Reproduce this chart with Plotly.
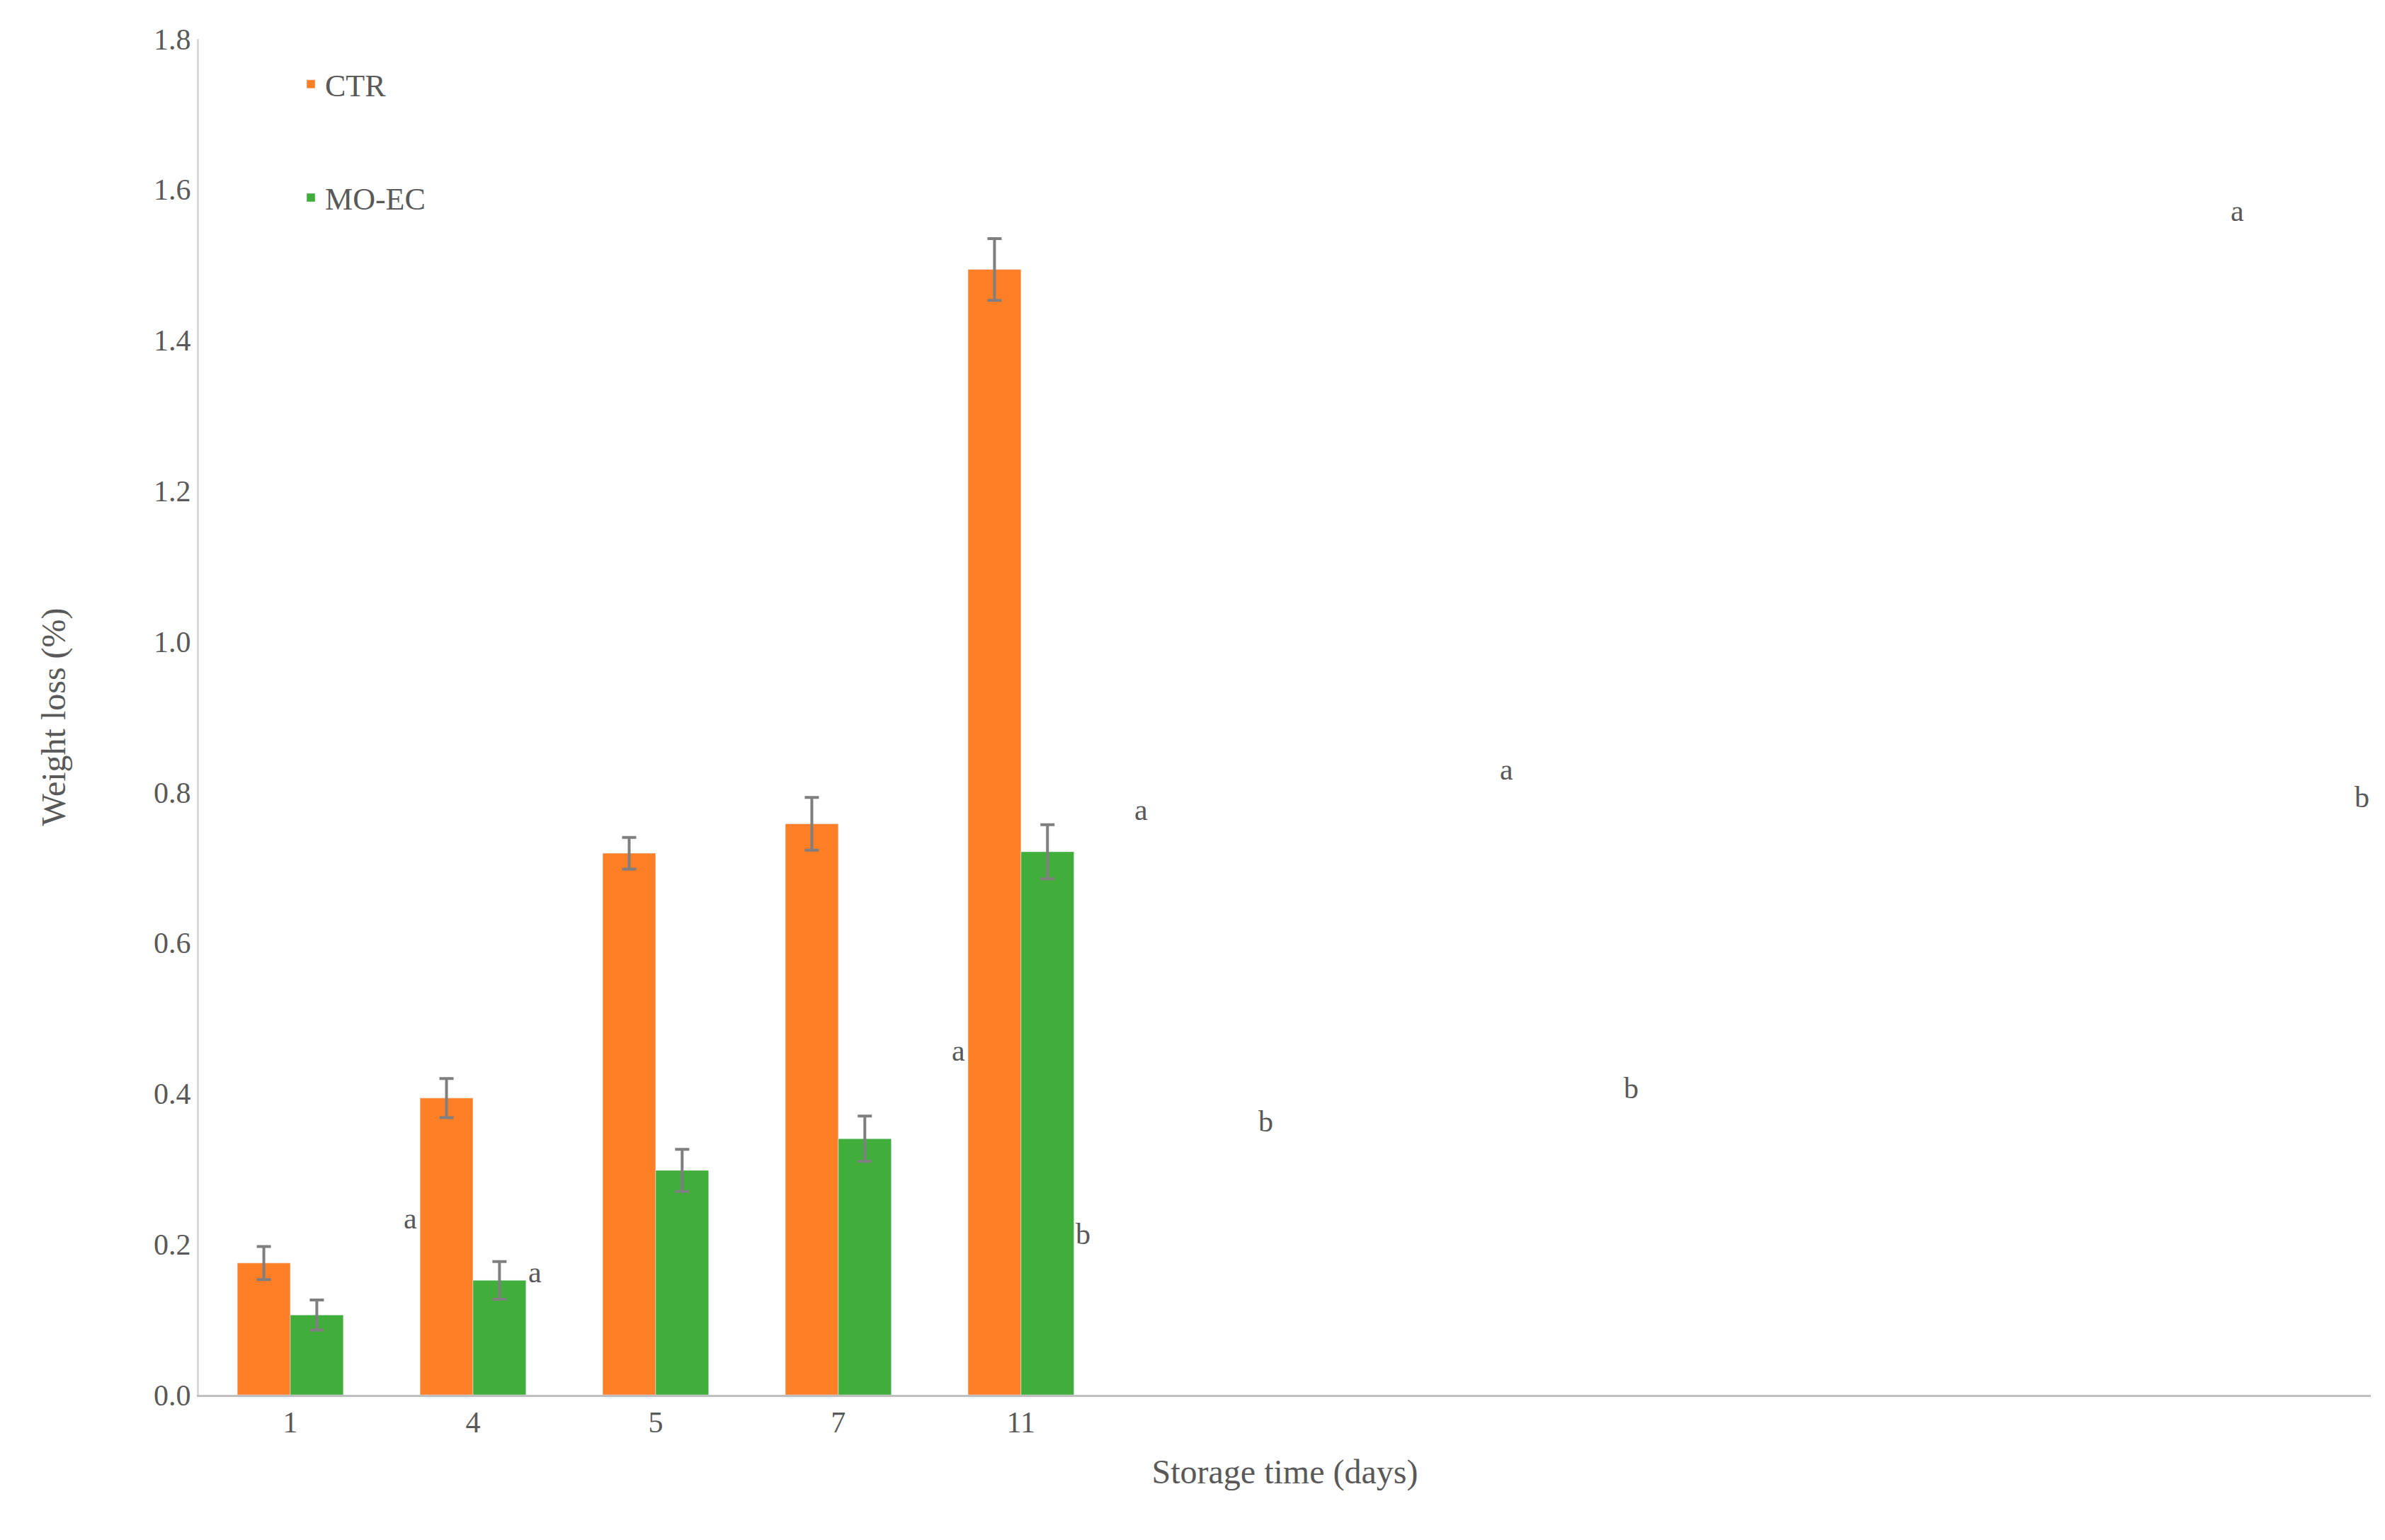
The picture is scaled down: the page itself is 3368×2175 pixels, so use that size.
import plotly.graph_objects as go

days = ["1", "4", "5", "7", "11"]
ctr = [0.175, 0.394, 0.719, 0.758, 1.494]
ctr_err = [0.022, 0.026, 0.021, 0.035, 0.041]
moec = [0.106, 0.152, 0.298, 0.340, 0.721]
moec_err = [0.020, 0.025, 0.028, 0.030, 0.036]
ctr_letters = ["a", "a", "a", "a", "a"]
moec_letters = ["a", "b", "b", "b", "b"]

font = "Liberation Serif"
grey = "#595959"
err_style = dict(type="data", visible=True, color="#7f7f7f", thickness=4, width=10)

fig = go.Figure()
fig.add_trace(go.Bar(x=days, y=ctr, name="CTR", marker_color="#FF7F27",
                     error_y=dict(array=ctr_err, **err_style), legendgroup="ctr"))
fig.add_trace(go.Bar(x=days, y=moec, name="MO-EC", marker_color="#41AD3A",
                     error_y=dict(array=moec_err, **err_style), legendgroup="moec"))

# significance letters above the error bars
for d, v, e, t in zip(days, ctr, ctr_err, ctr_letters):
    fig.add_annotation(x=d, y=v + e, text=t, xshift=-88, yshift=14, yanchor="bottom",
                       showarrow=False, font=dict(family=font, size=42, color=grey))
for d, v, e, t in zip(days, moec, moec_err, moec_letters):
    fig.add_annotation(x=d, y=v + e, text=t, xshift=88, yshift=14, yanchor="bottom",
                       showarrow=False, font=dict(family=font, size=42, color=grey))

fig.update_layout(
    width=3368, height=2175,
    paper_bgcolor="white", plot_bgcolor="white",
    margin=dict(l=273, r=28, t=47, b=213),
    barmode="group", bargap=0.42, bargroupgap=0,
    font=dict(family=font, size=42, color=grey),
    legend=dict(x=0.045, y=0.985, xanchor="left", yanchor="top", tracegroupgap=100,
                bgcolor="rgba(0,0,0,0)", font=dict(size=44, color=grey)),
    xaxis=dict(type="category", title=dict(text="Storage time (days)", font=dict(size=48), standoff=30),
               showline=True, linecolor="#bfbfbf", linewidth=3, ticks=""),
    yaxis=dict(title=dict(text="Weight loss (%)", font=dict(size=48), standoff=110),
               range=[0, 1.8], dtick=0.2, tickformat=".1f", showgrid=False,
               showline=True, linecolor="#d9d9d9", linewidth=3, zeroline=False,
               ticks=""),
)

fig.write_html("out.html")
